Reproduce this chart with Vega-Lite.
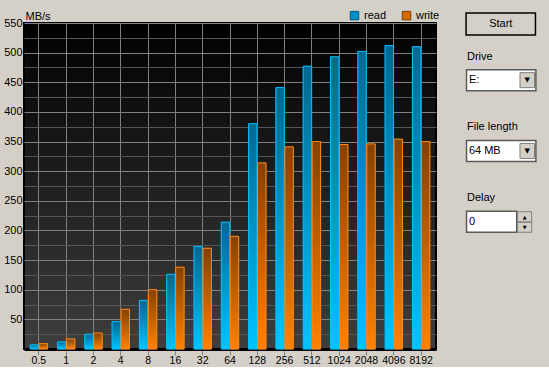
{
  "$schema": "https://vega.github.io/schema/vega-lite/v6.json",
  "background": "#d4d0c8",
  "padding": {"left": 2, "top": 9, "right": 9, "bottom": 0},
  "bounds": "flush",
  "spacing": 31,
  "config": {"font": "Liberation Sans"},
  "datasets": {
    "bench": [
      {"size": "0.5", "series": "read", "mbps": 7},
      {"size": "0.5", "series": "write", "mbps": 9},
      {"size": "1", "series": "read", "mbps": 12},
      {"size": "1", "series": "write", "mbps": 17},
      {"size": "2", "series": "read", "mbps": 25},
      {"size": "2", "series": "write", "mbps": 27},
      {"size": "4", "series": "read", "mbps": 46},
      {"size": "4", "series": "write", "mbps": 67},
      {"size": "8", "series": "read", "mbps": 82},
      {"size": "8", "series": "write", "mbps": 100},
      {"size": "16", "series": "read", "mbps": 126},
      {"size": "16", "series": "write", "mbps": 138},
      {"size": "32", "series": "read", "mbps": 173},
      {"size": "32", "series": "write", "mbps": 170},
      {"size": "64", "series": "read", "mbps": 214},
      {"size": "64", "series": "write", "mbps": 190},
      {"size": "128", "series": "read", "mbps": 380},
      {"size": "128", "series": "write", "mbps": 314},
      {"size": "256", "series": "read", "mbps": 441},
      {"size": "256", "series": "write", "mbps": 341},
      {"size": "512", "series": "read", "mbps": 477},
      {"size": "512", "series": "write", "mbps": 350},
      {"size": "1024", "series": "read", "mbps": 493},
      {"size": "1024", "series": "write", "mbps": 345},
      {"size": "2048", "series": "read", "mbps": 502},
      {"size": "2048", "series": "write", "mbps": 346},
      {"size": "4096", "series": "read", "mbps": 512},
      {"size": "4096", "series": "write", "mbps": 354},
      {"size": "8192", "series": "read", "mbps": 510},
      {"size": "8192", "series": "write", "mbps": 350}
    ],
    "controls": [
      {"item": "Start", "kind": "button"},
      {"item": "Drive", "kind": "label"},
      {"item": "E:", "kind": "combo"},
      {"item": "File length", "kind": "label"},
      {"item": "64 MB", "kind": "combo"},
      {"item": "Delay", "kind": "label"},
      {"item": "0", "kind": "spin"}
    ]
  },
  "hconcat": [
    {
      "width": 412,
      "height": 326,
      "view": {
        "stroke": "#000000",
        "strokeWidth": 2,
        "fill": {"gradient": "linear", "x1": 0, "y1": 0, "x2": 0, "y2": 1, "stops": [{"offset": 0, "color": "#000000"}, {"offset": 1, "color": "#3e3e3e"}]}
      },
      "data": {"name": "bench"},
      "encoding": {
        "x": {
          "field": "size", "type": "nominal",
          "scale": {"domain": ["0.5","1","2","4","8","16","32","64","128","256","512","1024","2048","4096","8192"], "paddingInner": 0, "paddingOuter": 0.045},
          "axis": {"title": null, "labelAngle": 0, "labelFontSize": 10.5, "labelColor": "#000000", "labelPadding": 0.5, "labelOverlap": false, "tickSize": 6, "tickColor": "#808080", "domainColor": "#000000", "domainWidth": 3, "grid": true, "gridColor": "#808080", "bandPosition": 0.5}
        },
        "xOffset": {"field": "series", "type": "nominal", "scale": {"domain": ["read", "write"], "paddingInner": 0.06, "paddingOuter": 0.55}},
        "y": {
          "field": "mbps", "type": "quantitative",
          "scale": {"domain": [0, 550], "nice": false},
          "axis": {
            "title": "MB/s", "titleAngle": 0, "titleAlign": "left", "titleX": 1, "titleY": -4, "titleBaseline": "alphabetic",
            "titleFontWeight": "normal", "titleFontSize": 11, "titleColor": "#000000",
            "values": [25,50,75,100,125,150,175,200,225,250,275,300,325,350,375,400,425,450,475,500,525,550],
            "labelExpr": "datum.value % 50 === 0 ? datum.label : ''",
            "ticks": false, "domain": false, "labelPadding": 2, "labelFontSize": 11, "labelColor": "#000000",
            "grid": true,
            "gridColor": {"condition": {"test": "datum.value % 50 === 0", "value": "#808080"}, "value": "#555555"}
          }
        }
      },
      "layer": [
        {
          "mark": {"type": "bar", "strokeWidth": 1},
          "encoding": {
            "color": {"field": "series", "type": "nominal", "scale": {"domain": ["read", "write"], "range": ["#0090c8", "#d46a00"]},
              "legend": {"orient": "none", "legendX": 325, "legendY": -13, "direction": "horizontal", "title": null, "symbolType": "square", "symbolSize": 72, "labelFontSize": 11, "labelColor": "#000000", "labelOffset": 4, "columnPadding": 13, "padding": 0, "symbolStrokeWidth": 1}},
            "stroke": {"field": "series", "type": "nominal", "scale": {"domain": ["read", "write"], "range": ["#00587e", "#7e3e00"]},
              "legend": {"orient": "none", "legendX": 325, "legendY": -13, "direction": "horizontal", "title": null, "symbolType": "square", "symbolSize": 72, "labelFontSize": 11, "labelColor": "#000000", "labelOffset": 4, "columnPadding": 13, "padding": 0, "symbolStrokeWidth": 1}}
          }
        },
        {
          "transform": [{"filter": "datum.series === 'read'"}],
          "mark": {"type": "bar", "stroke": "#00c0ff", "strokeWidth": 1,
            "fill": {"gradient": "linear", "x1": 0, "y1": 0, "x2": 0, "y2": 1, "stops": [{"offset": 0, "color": "#006890"}, {"offset": 1, "color": "#00c4ff"}]}}
        },
        {
          "transform": [{"filter": "datum.series === 'write'"}],
          "mark": {"type": "bar", "stroke": "#ff8a1a", "strokeWidth": 1,
            "fill": {"gradient": "linear", "x1": 0, "y1": 0, "x2": 0, "y2": 1, "stops": [{"offset": 0, "color": "#844100"}, {"offset": 1, "color": "#ff8200"}]}}
        }
      ]
    },
    {
      "width": 75,
      "height": 212,
      "view": {"stroke": null},
      "data": {"name": "controls"},
      "encoding": {
        "y": {"field": "item", "type": "nominal",
          "scale": {"type": "band", "domain": ["Start", "Drive", "E:", "gap1", "File length", "64 MB", "gap2", "Delay", "0"], "range": [-1.83, 210.57], "paddingInner": 0, "paddingOuter": 0},
          "axis": null}
      },
      "layer": [
        {
          "transform": [{"filter": "datum.kind === 'button'"}],
          "mark": {"type": "rect", "height": 22, "yOffset": -9, "fill": "#d4d0c8", "stroke": "#000000", "strokeWidth": 1.5},
          "encoding": {"x": {"datum": -1, "type": "quantitative", "scale": {"domain": [0, 75]}, "axis": null}, "x2": {"datum": 73}}
        },
        {
          "transform": [{"filter": "datum.kind === 'button'"}],
          "mark": {"type": "text", "align": "center", "baseline": "middle", "fontSize": 11, "dy": -9, "color": "#000000"},
          "encoding": {"x": {"datum": 36, "type": "quantitative"}, "text": {"field": "item"}}
        },
        {
          "transform": [{"filter": "datum.kind === 'combo'"}],
          "mark": {"type": "rect", "height": 21, "fill": "#ffffff", "stroke": "#5a5a5a", "strokeWidth": 1.5},
          "encoding": {"x": {"datum": -0.5, "type": "quantitative"}, "x2": {"datum": 73.5}}
        },
        {
          "transform": [{"filter": "datum.kind === 'spin'"}],
          "mark": {"type": "rect", "height": 21, "fill": "#ffffff", "stroke": "#5a5a5a", "strokeWidth": 1.5},
          "encoding": {"x": {"datum": -0.5, "type": "quantitative"}, "x2": {"datum": 53}}
        },
        {
          "transform": [{"filter": "datum.kind === 'combo'"}],
          "mark": {"type": "rect", "height": 15, "fill": "#d4d0c8", "stroke": "#808080", "strokeWidth": 1},
          "encoding": {"x": {"datum": 56.5, "type": "quantitative"}, "x2": {"datum": 72}}
        },
        {
          "transform": [{"filter": "datum.kind === 'combo'"}],
          "mark": {"type": "text", "text": "▼", "font": "DejaVu Sans", "align": "center", "baseline": "middle", "fontSize": 7, "color": "#000000"},
          "encoding": {"x": {"datum": 64.25, "type": "quantitative"}}
        },
        {
          "transform": [{"filter": "datum.kind === 'spin'"}],
          "mark": {"type": "rect", "height": 10, "yOffset": -5, "fill": "#d4d0c8", "stroke": "#808080", "strokeWidth": 1},
          "encoding": {"x": {"datum": 54, "type": "quantitative"}, "x2": {"datum": 69}}
        },
        {
          "transform": [{"filter": "datum.kind === 'spin'"}],
          "mark": {"type": "rect", "height": 10, "yOffset": 5.5, "fill": "#d4d0c8", "stroke": "#808080", "strokeWidth": 1},
          "encoding": {"x": {"datum": 54, "type": "quantitative"}, "x2": {"datum": 69}}
        },
        {
          "transform": [{"filter": "datum.kind === 'spin'"}],
          "mark": {"type": "text", "text": "▲", "font": "DejaVu Sans", "align": "center", "baseline": "middle", "fontSize": 5, "dy": -5, "color": "#000000"},
          "encoding": {"x": {"datum": 61.5, "type": "quantitative"}}
        },
        {
          "transform": [{"filter": "datum.kind === 'spin'"}],
          "mark": {"type": "text", "text": "▼", "font": "DejaVu Sans", "align": "center", "baseline": "middle", "fontSize": 5, "dy": 5.5, "color": "#000000"},
          "encoding": {"x": {"datum": 61.5, "type": "quantitative"}}
        },
        {
          "transform": [{"filter": "datum.kind === 'label'"}],
          "mark": {"type": "text", "align": "left", "baseline": "middle", "fontSize": 11, "color": "#000000"},
          "encoding": {"x": {"datum": 0, "type": "quantitative"}, "text": {"field": "item"}}
        },
        {
          "transform": [{"filter": "datum.kind === 'combo' || datum.kind === 'spin'"}],
          "mark": {"type": "text", "align": "left", "baseline": "middle", "fontSize": 11, "color": "#000000"},
          "encoding": {"x": {"datum": 2, "type": "quantitative"}, "text": {"field": "item"}}
        }
      ]
    }
  ]
}
